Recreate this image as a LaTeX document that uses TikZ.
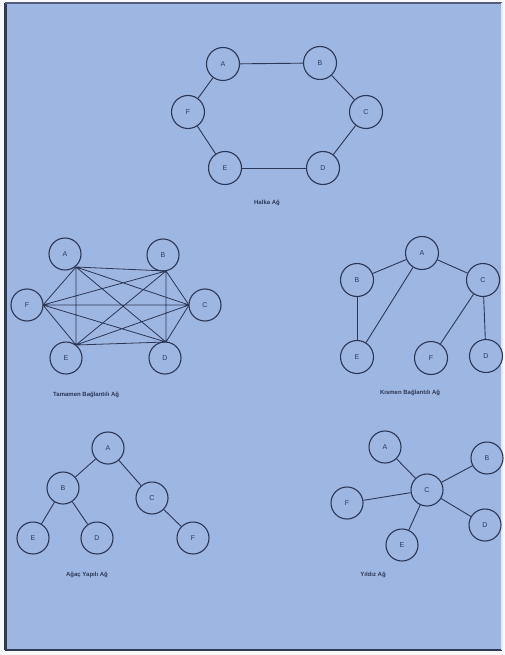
\documentclass[tikz,border=0pt]{standalone}
\usepackage{fontspec}
\setmainfont{Liberation Sans}
\definecolor{bgblue}{RGB}{158,182,226}
\definecolor{ink}{RGB}{45,55,85}
\definecolor{frame}{RGB}{50,58,80}
\begin{document}
\begin{tikzpicture}[x=1pt,y=-1pt,
  nd/.style={circle,draw=ink,line width=1.1pt,fill=bgblue,minimum size=33pt,inner sep=0pt,font=\fontsize{7}{8}\selectfont,text=ink},
  sm/.style={nd,minimum size=32pt},
  ln/.style={draw=ink,line width=0.9pt},
  lbl/.style={font=\fontsize{6}{7}\selectfont\bfseries,text=ink,inner sep=0pt}]
\useasboundingbox (0,0) rectangle (505,655);
\fill[white!92!bgblue] (0,0) rectangle (505,655);
\fill[bgblue] (5,3) rectangle (502,650);
\draw[frame,line width=3pt] (5,650) -- (5,3);
\draw[frame!70!bgblue,line width=1.2pt] (5,3) -- (502,3);
\draw[frame,line width=2pt] (5,650) -- (502,650);
\draw[white!70!bgblue,line width=1.5pt] (502,3) -- (502,650);

% Halka Ag
\node[nd] (rA) at (223,64) {A};
\node[nd] (rB) at (320,63) {B};
\node[nd] (rC) at (366,112) {C};
\node[nd] (rD) at (323,168) {D};
\node[nd] (rE) at (225,168) {E};
\node[nd] (rF) at (188,112) {F};
\draw[ln] (rA) -- (rB);
\draw[ln] (rB) -- (rC);
\draw[ln] (rC) -- (rD);
\draw[ln] (rD) -- (rE);
\draw[ln] (rE) -- (rF);
\draw[ln] (rF) -- (rA);
\node[lbl] (lr) at (267,203) {Halka Ağ};

% Tamamen Baglantili Ag
\node[sm] (tA) at (65,254) {A};
\node[sm] (tB) at (163,255) {B};
\node[sm] (tC) at (205,305) {C};
\node[sm] (tD) at (165,358) {D};
\node[sm] (tE) at (66,358) {E};
\node[sm] (tF) at (27,305) {F};
\coordinate (pA) at (76,267);
\coordinate (pB) at (166,271);
\coordinate (pC) at (189,305);
\coordinate (pD) at (166,342);
\coordinate (pE) at (76,345);
\coordinate (pF) at (43,305);
\draw[ln,line width=0.8pt] (pA) -- (pB) (pA) -- (pC) (pA) -- (pD) (pA) -- (pE) (pA) -- (pF)
  (pB) -- (pC) (pB) -- (pD) (pB) -- (pE) (pB) -- (pF)
  (pC) -- (pD) (pC) -- (pE) (pC) -- (pF)
  (pD) -- (pE) (pD) -- (pF) (pE) -- (pF);
\node[lbl,anchor=west] (lt) at (53,395) {Tamamen Bağlantılı Ağ};

% Kismen Baglantili Ag
\node[nd] (kA) at (422,253) {A};
\node[nd] (kB) at (357,280) {B};
\node[nd] (kC) at (483,280) {C};
\node[nd] (kE) at (357,357) {E};
\node[nd] (kF) at (431,358) {F};
\node[nd] (kD) at (486,356) {D};
\draw[ln] (kB) -- (kA);
\draw[ln] (kA) -- (kC);
\draw[ln] (kB) -- (kE);
\draw[ln] (kA) -- (kE);
\draw[ln] (kC) -- (kF);
\draw[ln] (kC) -- (kD);
\node[lbl] (lk) at (410,393) {Kısmen Bağlantılı Ağ};

% Agac Yapili Ag
\node[sm] (aA) at (108,448) {A};
\node[sm] (aB) at (63,488) {B};
\node[sm] (aC) at (152,498) {C};
\node[sm] (aE) at (33,538) {E};
\node[sm] (aD) at (97,538) {D};
\node[sm] (aF) at (193,538) {F};
\draw[ln] (aA) -- (aB);
\draw[ln] (aA) -- (aC);
\draw[ln] (aB) -- (aE);
\draw[ln] (aB) -- (aD);
\draw[ln] (aC) -- (aF);
\node[lbl] (la) at (87,575) {Ağaç Yapılı Ağ};

% Yildiz Ag
\node[sm] (yC) at (427,490) {C};
\node[sm] (yA) at (385,447) {A};
\node[sm] (yB) at (487,458) {B};
\node[sm] (yF) at (347,503) {F};
\node[sm] (yE) at (402,545) {E};
\node[sm] (yD) at (485,525) {D};
\draw[ln] (yC) -- (yA);
\draw[ln] (yC) -- (yB);
\draw[ln] (yC) -- (yF);
\draw[ln] (yC) -- (yE);
\draw[ln] (yC) -- (yD);
\node[lbl] (ly) at (373,575) {Yıldız Ağ};
\end{tikzpicture}
\end{document}
